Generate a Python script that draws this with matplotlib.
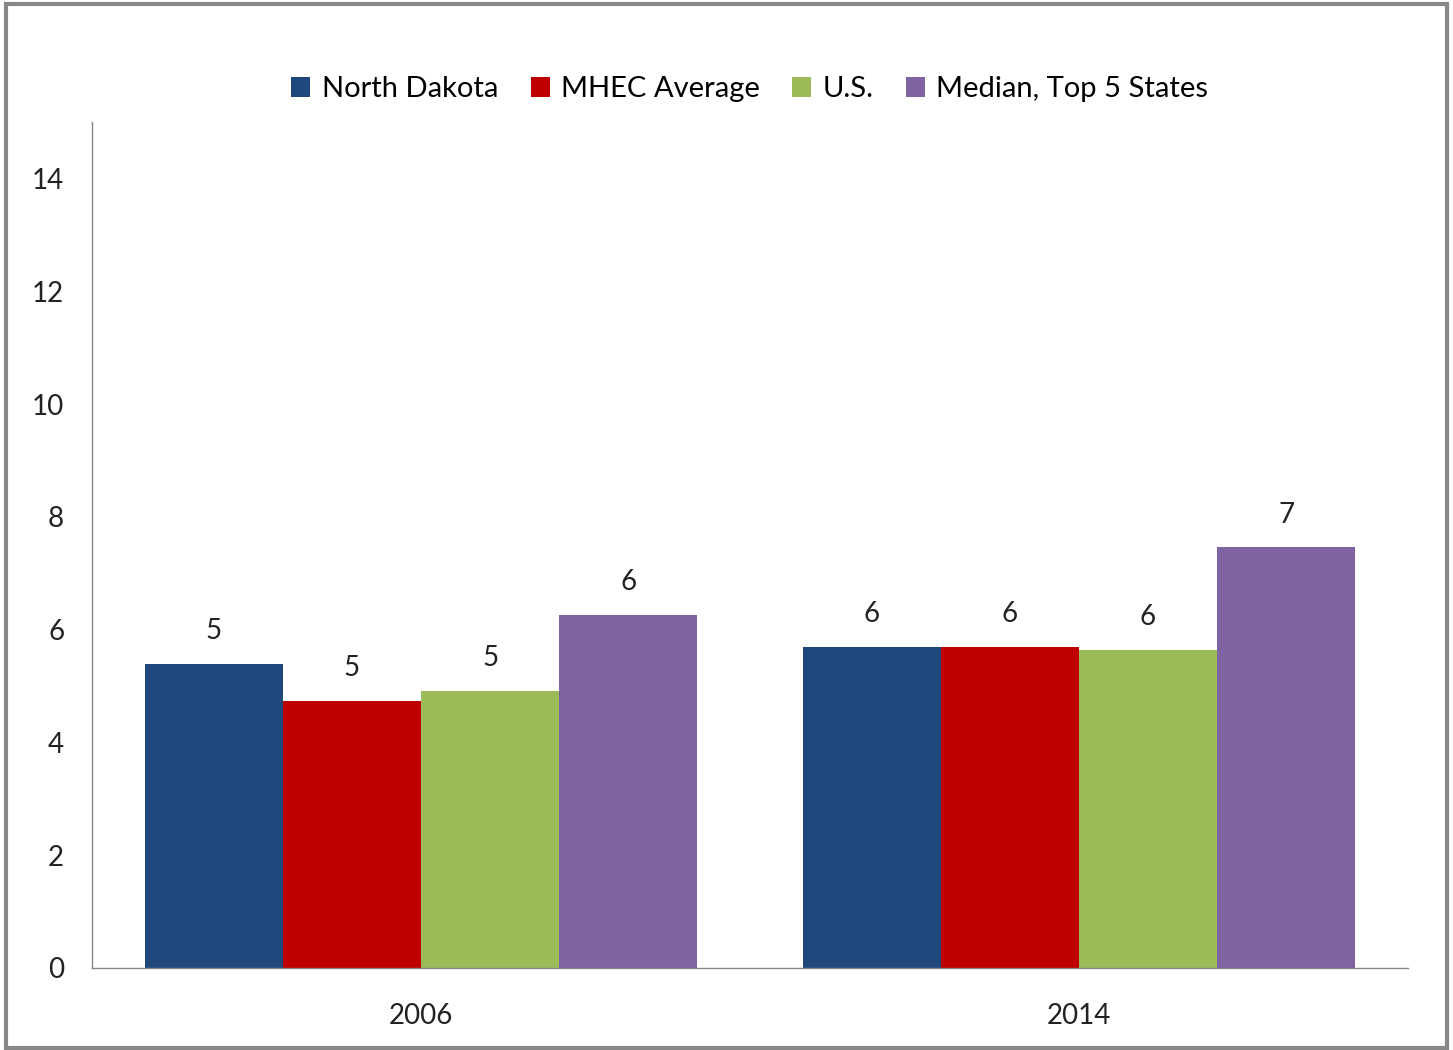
import matplotlib.pyplot as plt
import numpy as np
from matplotlib.patches import Rectangle

plt.rcParams['font.family'] = ['Lato', 'DejaVu Sans']

years = ["2006", "2014"]
series = ["North Dakota", "MHEC Average", "U.S.", "Median, Top 5 States"]
values = {
    "North Dakota": [5.39, 5.69],
    "MHEC Average": [4.73, 5.69],
    "U.S.": [4.91, 5.64],
    "Median, Top 5 States": [6.26, 7.46],
}
colors = ["#1F497D", "#C00000", "#9BBB59", "#8064A2"]

fig = plt.figure(figsize=(14.53, 10.5), dpi=100)
ax = fig.add_axes([0.0633, 0.0781, 0.9057, 0.8057])

x = np.arange(len(years))
w = 0.21
for i, (name, c) in enumerate(zip(series, colors)):
    pos = x + (i - 1.5) * w
    v = values[name]
    ax.bar(pos, v, w, color=c, label=name)
    for p, val in zip(pos, v):
        ax.text(p, val + 0.35, f"{val:.0f}", ha="center", va="bottom",
                fontsize=20, color="#222222")

ax.set_xlim(-0.5, 1.5)
ax.set_ylim(0, 15)
ax.set_yticks(range(0, 15, 2))
ax.set_xticks(x)
ax.set_xticklabels(years)
ax.tick_params(length=0, labelsize=20, colors="#222222")
ax.tick_params(axis="y", pad=20)
ax.tick_params(axis="x", pad=25)
for s in ["top", "right"]:
    ax.spines[s].set_visible(False)
for s in ["left", "bottom"]:
    ax.spines[s].set_color("#888888")
    ax.spines[s].set_linewidth(1)

ax.legend(loc="upper center", bbox_to_anchor=(0.5, 1.085), ncol=4, frameon=False,
          fontsize=21, handlelength=0.65, handleheight=0.65, handletextpad=0.4,
          columnspacing=1.1)

fig.patches.append(Rectangle((0.004, 0.002), 0.992, 0.994, transform=fig.transFigure,
                             fill=False, edgecolor="#888888", linewidth=3))

fig.savefig("out.png", dpi=100)
